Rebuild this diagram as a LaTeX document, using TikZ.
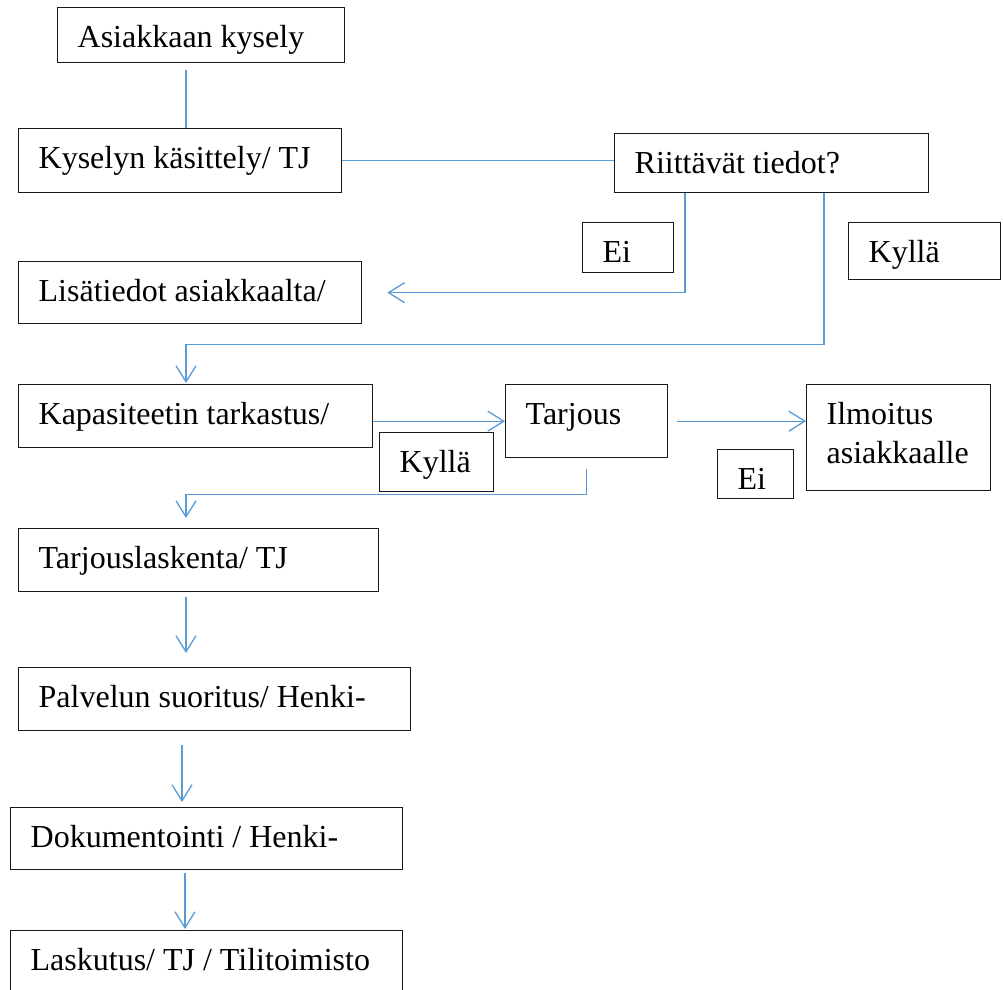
\documentclass[tikz,border=0pt]{standalone}
\usepackage{fontspec}
\setmainfont{Liberation Serif}
\usepackage{tikz}
\usetikzlibrary{arrows.meta, calc}
\definecolor{flowblue}{RGB}{91,155,213}
\newcommand{\flowfont}{\fontsize{32pt}{39pt}\selectfont}

\begin{document}
\begin{tikzpicture}[
  x=1pt, y=-1pt,
  box/.style={draw=black!90, line width=1.3pt, anchor=north west, text width=#1,
    inner xsep=20pt, inner ysep=0pt, text height=40pt, align=flush left, font=\flowfont},
  box/.default=247pt,
  link/.style={draw=flowblue, line width=1.3pt},
  arr/.style={link, -{Straight Barb[length=16pt, width=20pt]}},
]
\clip (0,0) rectangle (1003,989);

% === INQUIRY ===
\node[box=247pt, text depth=15pt] (ask) at (57,7) {Asiakkaan kysely};
\node[box=283pt, text depth=24pt] (handling) at (18,128) {Kyselyn käsittely/ TJ};
\node[box=274pt, text depth=19pt] (enough) at (614,133) {Riittävät tiedot?};

\draw[link] ([xshift=129pt,yshift=-7pt]ask.south west) -- ([xshift=168pt]handling.north west);
\draw[link] (handling.east) -- (handling.east -| enough.west);

% === DECISION ===
\node[box=51pt, text depth=10pt] (noA) at (582,222) {Ei};
\node[box=112pt, text depth=17pt] (yesA) at (848,222) {Kyllä};
\node[box=303pt, text depth=22pt] (moreinfo) at (18,261) {Lisätiedot asiakkaalta/};

\draw[arr] ([xshift=71pt]enough.south west) |- ([xshift=25pt]moreinfo.east);

% === CAPACITY ===
\node[box=314pt, text depth=23pt] (capacity) at (18,384) {Kapasiteetin tarkastus/};
\node[box=122pt, text depth=33pt] (offer) at (505,384) {Tarjous};
\node[box=144pt, text depth=66pt] (notify) at (806,384) {Ilmoitus\\asiakkaalle};
\node[box=74pt, text depth=19pt] (yesB) at (379,432) {Kyllä};
\node[box=36pt, text depth=9pt] (noB) at (717,449) {Ei};

\draw[arr] ([xshift=210pt]enough.south west) -- ++(0,151) -| ([xshift=168pt,yshift=1pt]capacity.north west);
\draw[arr] (capacity.east |- offer.west) -- (offer.west);
\draw[arr] ([xshift=9pt]offer.east) -- (offer.east -| notify.west);

% === EXECUTION ===
\node[box=320pt, text depth=23pt] (calc) at (18,528) {Tarjouslaskenta/ TJ};
\node[box=352pt, text depth=23pt] (service) at (18,667) {Palvelun suoritus/ Henki-};
\node[box=352pt, text depth=22pt] (docs) at (10,807) {Dokumentointi / Henki-};
\node[box=352pt, text depth=40pt] (billing) at (10,930) {Laskutus/ TJ / Tilitoimisto};

\draw[arr] ([yshift=-11pt]offer.south) -- ++(0,25) -| ([xshift=168pt,yshift=10pt]calc.north west);
\draw[arr] ([xshift=168pt,yshift=-5pt]calc.south west) -- ([xshift=168pt,yshift=14pt]service.north west);
\draw[arr] ([xshift=164pt,yshift=-14pt]service.south west) -- ([xshift=172pt,yshift=5pt]docs.north west);
\draw[arr] ([xshift=175pt,yshift=-3pt]docs.south west) -- ([xshift=175pt,yshift=1pt]billing.north west);

\end{tikzpicture}
\end{document}
